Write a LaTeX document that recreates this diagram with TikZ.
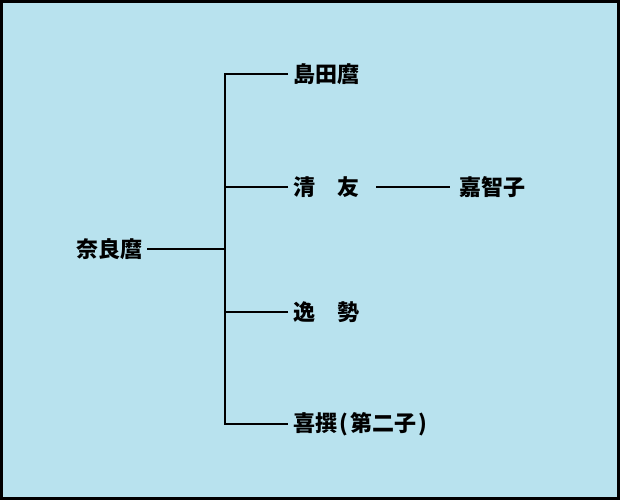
\documentclass[tikz,border=0pt]{standalone}
\usepackage{fontspec}
\newfontfamily\cjk{Noto Sans CJK JP}
\definecolor{paleblue}{RGB}{184,226,238}

\tikzset{every picture/.style={line width=2.2pt}}
\tikzset{person/.style={inner sep=0pt,outer sep=3.75pt,font=\cjk\bfseries\fontsize{16.5pt}{18pt}\selectfont}}

\begin{document}
\begin{tikzpicture}[x=0.75pt,y=0.75pt,yscale=-1,xscale=1]
%set diagram left start at 0, and has height of 500
\fill [black] (0,0) rectangle (620,500) ;
\fill [paleblue] (3,3) rectangle (617,497) ;

% Text Node
\node (naramaro) [person,anchor=east] at (147,249) {奈良麿};
% Text Node
\node (shimada) [person,anchor=west] at (288,74) {島田麿};
% Text Node
\node (kiyotomo) [person,anchor=west] at (288,187) {清　友};
% Text Node
\node (kachiko) [person,anchor=west] at (454,187) {嘉智子};
% Text Node
\node (hayanari) [person,anchor=west] at (288,312) {逸　勢};
% Text Node
\node (kisen) [person,anchor=west] at (288,424) {喜撰\kern2pt(\kern1.5pt第二子\kern1.5pt)};

\coordinate (fork) at (225,249) ;

%Straight Lines
\draw (naramaro.east) -- (fork) ;
%Straight Lines
\draw (shimada.west) -- (shimada.west -| fork) -- (kisen.west -| fork) -- (kisen.west) ;
%Straight Lines
\draw (kiyotomo.west) -- (kiyotomo.west -| fork) ;
%Straight Lines
\draw (hayanari.west) -- (hayanari.west -| fork) ;
%Straight Lines
\draw ([xshift=9pt]kiyotomo.east) -- ([xshift=-3pt]kachiko.west) ;

\end{tikzpicture}
\end{document}
